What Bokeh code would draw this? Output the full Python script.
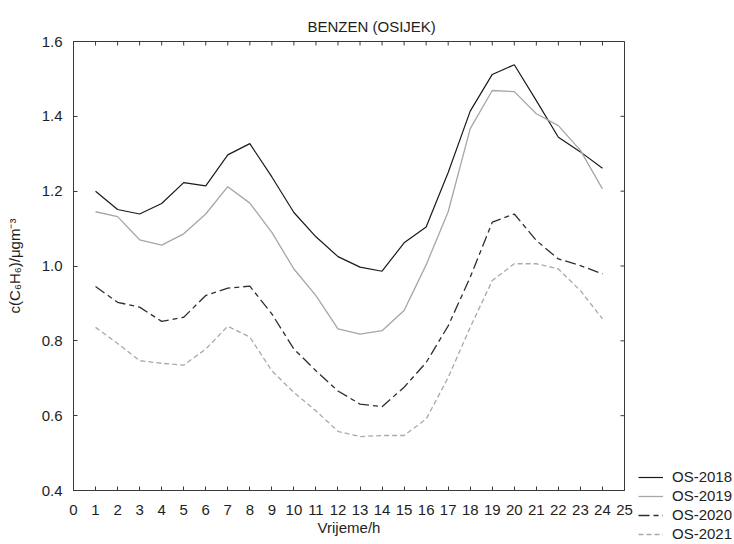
import math
from bokeh.plotting import figure
from bokeh.models import (Range1d, FixedTicker, Legend, LegendItem, Title,
                          CustomJSTickFormatter)
from bokeh.embed import file_html
from bokeh.resources import INLINE

hours = [1, 2, 3, 4, 5, 6, 7, 8, 9, 10, 11, 12, 13, 14, 15, 16, 17, 18, 19, 20, 21, 22, 23, 24]
os2018 = [1.200, 1.151, 1.139, 1.167, 1.223, 1.214, 1.297, 1.327, 1.238, 1.143, 1.078, 1.025,
          0.997, 0.986, 1.062, 1.104, 1.250, 1.414, 1.512, 1.538, 1.442, 1.344, 1.305, 1.261]
os2019 = [1.145, 1.132, 1.070, 1.056, 1.086, 1.139, 1.212, 1.168, 1.090, 0.992, 0.921, 0.832,
          0.818, 0.827, 0.881, 1.003, 1.145, 1.367, 1.469, 1.466, 1.407, 1.375, 1.309, 1.206]
os2020 = [0.945, 0.903, 0.890, 0.852, 0.863, 0.921, 0.941, 0.946, 0.872, 0.778, 0.720, 0.666,
          0.631, 0.624, 0.676, 0.742, 0.840, 0.970, 1.117, 1.139, 1.068, 1.019, 1.001, 0.979]
os2021 = [0.836, 0.793, 0.747, 0.740, 0.735, 0.778, 0.839, 0.810, 0.720, 0.662, 0.613, 0.558,
          0.544, 0.547, 0.547, 0.591, 0.702, 0.836, 0.961, 1.006, 1.006, 0.992, 0.934, 0.859]
series_names = ["OS-2018", "OS-2019", "OS-2020", "OS-2021"]
x_ticks = list(range(0, 26))
y_ticks = [0.4, 0.6, 0.8, 1.0, 1.2, 1.4, 1.6]
x_min, x_max = 0, 25
y_min, y_max = 0.4, 1.6

FONT = "Liberation Sans"
TXT = "#1e1e1e"
AX = "#3a3a3a"
FS = "15px"

p = figure(frame_width=551, frame_height=449, output_backend="svg", toolbar_location=None,
           x_range=Range1d(x_min, x_max), y_range=Range1d(y_min, y_max),
           min_border_left=73, min_border_right=110, min_border_top=41,
           min_border_bottom=54, x_axis_label="Vrijeme/h",
           y_axis_label="c(C\u2086H\u2086)/\u03bcgm\u207b\u00b3")
p.title = Title(text="BENZEN (OSIJEK)", align="left", offset=234,
                text_font=FONT, text_font_size=FS, text_font_style="normal",
                text_color=TXT, standoff=14)
p.grid.visible = False
p.outline_line_color = AX
p.outline_line_width = 1
p.background_fill_color = "white"
p.border_fill_color = "white"

for ax in [p.xaxis[0], p.yaxis[0]]:
    ax.major_tick_in = 4
    ax.major_tick_out = 0
    ax.minor_tick_line_color = None
    ax.axis_line_color = AX
    ax.major_tick_line_color = AX
    ax.major_label_text_font = FONT
    ax.major_label_text_font_size = FS
    ax.major_label_text_color = TXT
    ax.axis_label_text_font = FONT
    ax.axis_label_text_font_size = FS
    ax.axis_label_text_font_style = "normal"
    ax.axis_label_text_color = TXT

p.xaxis[0].ticker = FixedTicker(ticks=x_ticks)
p.yaxis[0].ticker = FixedTicker(ticks=y_ticks)
p.xaxis[0].major_label_standoff = 14
p.xaxis[0].axis_label_standoff = 1
p.yaxis[0].major_label_standoff = 11
p.yaxis[0].axis_label_standoff = 16
p.yaxis[0].formatter = CustomJSTickFormatter(code="return tick.toFixed(1);")

# inward ticks on the top and right frame edges (half of each dash is clipped by the frame)
p.scatter(x_ticks, [y_max] * len(x_ticks), marker="dash", size=8, angle=math.pi / 2,
          line_color=AX, line_width=1)
p.scatter([x_max] * len(y_ticks), y_ticks, marker="dash", size=8, angle=0,
          line_color=AX, line_width=1)

r1 = p.line(hours, os2018, line_color="#1a1a1a", line_width=1.2)
r2 = p.line(hours, os2019, line_color="#a6a6a6", line_width=1.3)
r3 = p.line(hours, os2020, line_color="#2e2e2e", line_width=1.3, line_dash="11 4 5 4")
r4 = p.line(hours, os2021, line_color="#a9a9a9", line_width=1.3, line_dash="5 3")

legend = Legend(items=[LegendItem(label=series_names[0], renderers=[r1]),
                       LegendItem(label=series_names[1], renderers=[r2]),
                       LegendItem(label=series_names[2], renderers=[r3]),
                       LegendItem(label=series_names[3], renderers=[r4])],
                location=(14, -52), padding=0, margin=0, spacing=2,
                glyph_width=25, glyph_height=14, label_height=14,
                label_standoff=9, border_line_color=None,
                background_fill_alpha=0, label_text_font=FONT,
                label_text_font_size=FS, label_text_color=TXT)
p.add_layout(legend, "right")

open("out.html", "w").write(file_html(p, INLINE))
